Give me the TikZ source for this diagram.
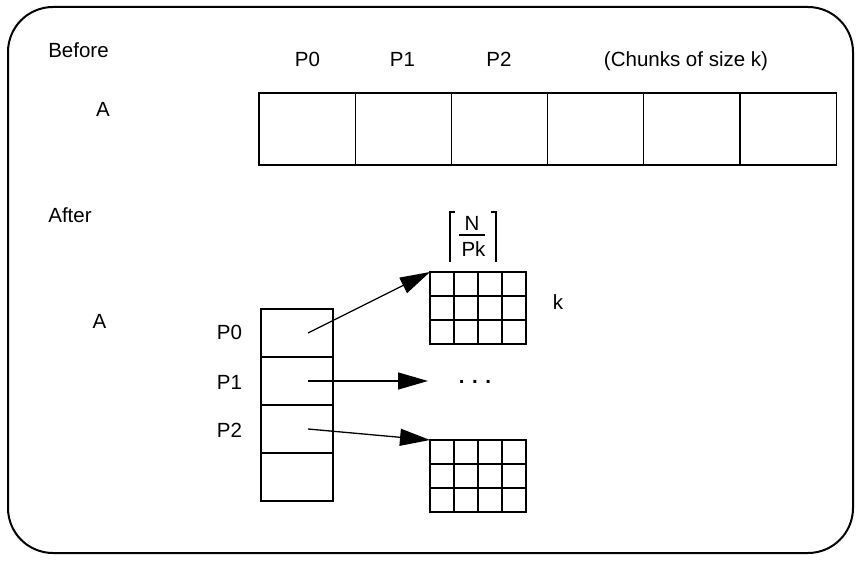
\documentclass[tikz,border=0pt]{standalone}
\usepackage{fontspec}
\setmainfont{Liberation Sans}
\usetikzlibrary{arrows.meta,positioning}

\begin{document}
\begin{tikzpicture}[x=1pt,y=-1pt,line width=1.3pt,
  >={Triangle[length=30pt,width=17pt]},
  font=\fontsize{20.5}{24}\selectfont]
  \tikzstyle{chunk}=[draw,minimum width=96.2pt,minimum height=72pt,inner sep=0pt,outer sep=0pt]
  \tikzstyle{slot}=[draw,minimum width=72pt,minimum height=48pt,inner sep=0pt,outer sep=0pt]
  \tikzstyle{block}=[draw,minimum width=96pt,minimum height=72pt,inner sep=0pt,outer sep=0pt]
  \tikzstyle{lbl}=[anchor=base,inner sep=0pt]

  \useasboundingbox (0,0) rectangle (862,561);
  \draw[line width=2pt,rounded corners=45pt] (8,7) rectangle (853,553);

  % before
  \node[lbl] (before) at (78.5,58) {Before};
  \node[lbl] (atop)   at (103,117) {A};
  \node[chunk,anchor=north west] (a1) at (259,93) {};
  \node[chunk] (a2) [right=0pt of a1] {};
  \node[chunk] (a3) [right=0pt of a2] {};
  \node[chunk] (a4) [right=0pt of a3] {};
  \node[chunk] (a5) [right=0pt of a4] {};
  \node[chunk] (a6) [right=0pt of a5] {};
  \node[lbl] (tp0) at (307.5,67) {P0};
  \node[lbl] (tp1) at (402.5,67) {P1};
  \node[lbl] (tp2) at (499,67) {P2};
  \node[lbl] (size) at (686,67) {(Chunks of size k)};

  % after
  \node[lbl] (after) at (70,223) {After};
  \node[lbl] (abot)  at (99.5,329) {A};
  \node[slot,anchor=north west] (c1) at (261,309) {};
  \node[slot] (c2) [below=0pt of c1] {};
  \node[slot] (c3) [below=0pt of c2] {};
  \node[slot] (c4) [below=0pt of c3] {};
  \node[lbl] (lp0) at (229.5,339) {P0};
  \node[lbl] (lp1) at (229.5,389) {P1};
  \node[lbl] (lp2) at (229.5,437) {P2};

  \node[block,anchor=north west] (gtop) at (430,272) {};
  \node[block,anchor=north west] (gbot) at (430,440) {};
  \foreach \g in {gtop,gbot} {
    \foreach \i in {1,2,3}
      \draw ([xshift=\i*24pt]\g.north west) -- ([xshift=\i*24pt]\g.south west);
    \foreach \j in {1,2}
      \draw ([yshift=-\j*24pt]\g.north west) -- ([yshift=-\j*24pt]\g.north east);
  }
  \node[lbl] (rows) at (558,309) {k};
  \node[lbl] (dots) at (475,383) {\bfseries . . .};

  % ceiling of N/Pk
  \node[lbl] (fracN)  at (472,231) {N};
  \node[lbl] (fracPk) at (473.5,257) {Pk};
  \draw (459,235) -- (485,235);
  \draw (455,212) -- (450,212) -- (450,262);
  \draw (491,212) -- (496,212) -- (496,262);

  \coordinate (p1end) at (428,381);
  \draw[->] ([xshift=11pt]c1.center) -- (gtop.north west);
  \draw[->] ([xshift=11pt]c2.center) -- (p1end);
  \draw[->] ([xshift=11pt]c3.center) -- (gbot.north west);
\end{tikzpicture}
\end{document}
